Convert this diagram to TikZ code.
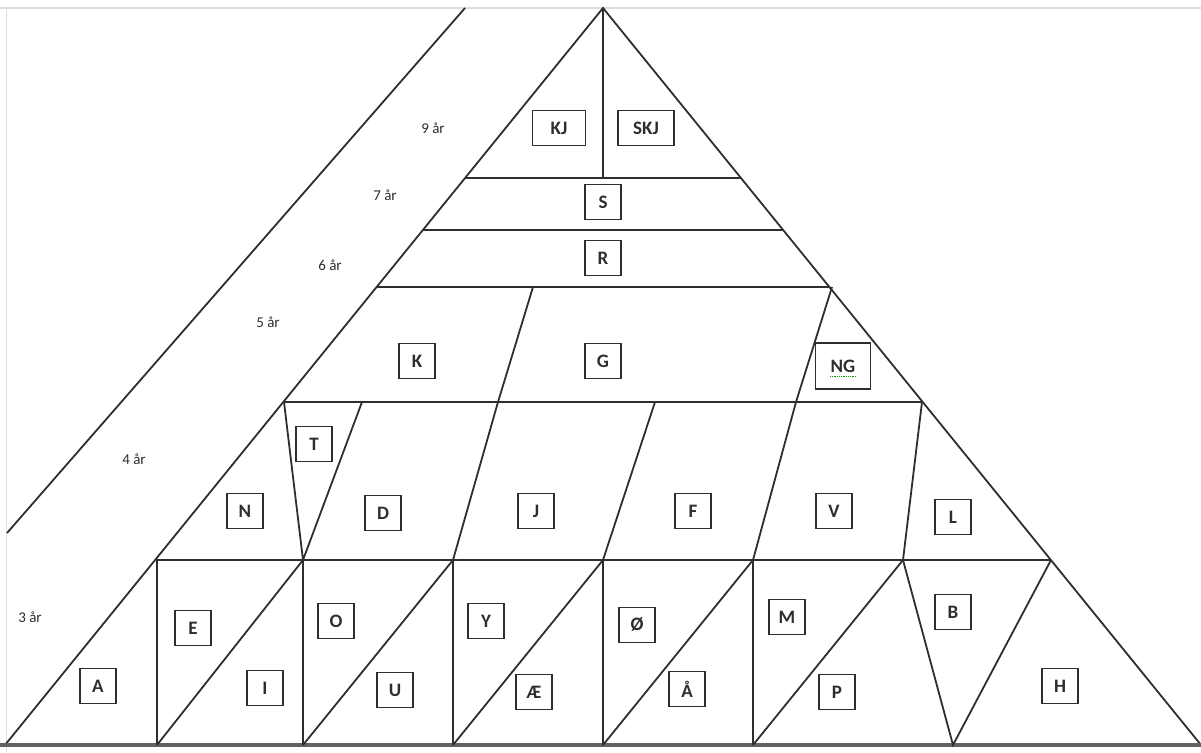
\documentclass[tikz,border=0pt]{standalone}
\usepackage{fontspec}
\setmainfont{Carlito}
\definecolor{ink}{HTML}{2E2E2E}
\definecolor{frame}{HTML}{DDDDDD}
\begin{document}
\begin{tikzpicture}[x=1pt,y=-1pt,
  ln/.style={draw=ink,line width=1.8pt},
  lbl/.style={draw=ink,line width=1.7pt,minimum width=36,minimum height=35,inner sep=2pt,font=\fontsize{19}{19}\selectfont\bfseries,text=ink},
  age/.style={font=\fontsize{15}{15}\selectfont,text=ink}]
\useasboundingbox (0,0) rectangle (1201,752);
% faint frame
\draw[frame,line width=1.5pt] (0,8) -- (1201,8);
\draw[frame,line width=1.5pt] (6.5,8) -- (6.5,752);
% coordinates
\coordinate (apex) at (603,8);
\coordinate (bl) at (5,745);
\coordinate (br) at (1201,745);
\coordinate (o1) at (465,8);
\coordinate (o2) at (7,533);
% outer parallel line
\draw[ln] (o1) -- (o2);
% main triangle
\draw[ln] (bl) -- (apex) -- (br);
\draw[draw=ink!75,line width=4pt] (0,745) -- (1201,745);
% horizontal lines
\coordinate (h1l) at (465,178); \coordinate (h1r) at (741,178);
\coordinate (h2l) at (423,230); \coordinate (h2r) at (783,230);
\coordinate (h3l) at (377,287); \coordinate (h3r) at (830,287);
\coordinate (h4l) at (284,402); \coordinate (h4r) at (922,402);
\coordinate (h5l) at (156,560); \coordinate (h5r) at (1051,560);
\draw[ln] (h1l) -- (h1r);
\draw[ln] (h2l) -- (h2r);
\draw[ln] (h3l) -- (h3r);
\draw[ln] (h4l) -- (h4r);
\draw[ln] (h5l) -- (h5r);
% apex vertical
\coordinate (v0) at (603,178);
\draw[ln] (apex) -- (v0);
% row 5 dividers
\coordinate (a1) at (533,287); \coordinate (a2) at (498,402);
\coordinate (a3) at (832,287); \coordinate (a4) at (796,402);
\draw[ln] (a1) -- (a2);
\draw[ln] (a3) -- (a4);
% row 4 dividers
\coordinate (t1) at (362,402); \coordinate (tb) at (303,560);
\coordinate (b453) at (453,560); \coordinate (b603) at (603,560);
\coordinate (b753) at (753,560); \coordinate (b903) at (903,560);
\coordinate (c655) at (655,402);
\draw[ln] (h4l) -- (tb) -- (t1);
\draw[ln] (a2) -- (b453);
\draw[ln] (c655) -- (b603);
\draw[ln] (a4) -- (b753);
\draw[ln] (h4r) -- (b903);
% row 3
\coordinate (g157) at (157,745); \coordinate (g303) at (303,745);
\coordinate (g453) at (453,745); \coordinate (g603) at (603,745);
\coordinate (g753) at (753,745); \coordinate (g953) at (953,745);
\coordinate (u157) at (157,560);
\draw[ln] (u157) -- (g157);
\draw[ln] (tb) -- (g303);
\draw[ln] (b453) -- (g453);
\draw[ln] (b603) -- (g603);
\draw[ln] (b753) -- (g753);
\draw[ln] (g157) -- (tb);
\draw[ln] (g303) -- (b453);
\draw[ln] (g453) -- (b603);
\draw[ln] (g603) -- (b753);
\draw[ln] (g753) -- (b903);
\draw[ln] (b903) -- (g953) -- (h5r);
% age labels
\node[age] (y9) at (433,128) {9 år};
\node[age] (y7) at (385,195) {7 år};
\node[age] (y6) at (330,265) {6 år};
\node[age] (y5) at (268,322) {5 år};
\node[age] (y4) at (134,459) {4 år};
\node[age] (y3) at (30,617) {3 år};
% boxes
\node[lbl,minimum width=53] (KJ) at (559,128) {KJ};
\node[lbl,minimum width=56] (SKJ) at (646,128) {SKJ};
\node[lbl] (S) at (603,202) {S};
\node[lbl] (R) at (603,258) {R};
\node[lbl] (K) at (417,361) {K};
\node[lbl] (G) at (603,361) {G};
\node[lbl,minimum width=55,minimum height=46] (NG) at (843,366) {NG};
\draw[green!60!black,densely dotted,line width=0.8pt] ([xshift=-13,yshift=-10]NG.center) -- ([xshift=13,yshift=-10]NG.center);
\node[lbl] (T) at (314,444) {T};
\node[lbl] (N) at (245,511) {N};
\node[lbl] (D) at (383,513) {D};
\node[lbl] (J) at (536,511) {J};
\node[lbl] (F) at (693,511) {F};
\node[lbl] (V) at (834,511) {V};
\node[lbl] (L) at (953,517) {L};
\node[lbl] (A) at (98,686) {A};
\node[lbl] (E) at (193,628) {E};
\node[lbl] (I) at (265,688) {I};
\node[lbl] (O) at (336,621) {O};
\node[lbl] (U) at (395,690) {U};
\node[lbl] (Y) at (486,621) {Y};
\node[lbl] (AE) at (534,692) {Æ};
\node[lbl] (OE) at (637,625) {Ø};
\node[lbl] (AA) at (687,689) {Å};
\node[lbl] (M) at (787,617) {M};
\node[lbl] (P) at (837,692) {P};
\node[lbl] (B) at (953,612) {B};
\node[lbl] (H) at (1060,686) {H};
\end{tikzpicture}
\end{document}
